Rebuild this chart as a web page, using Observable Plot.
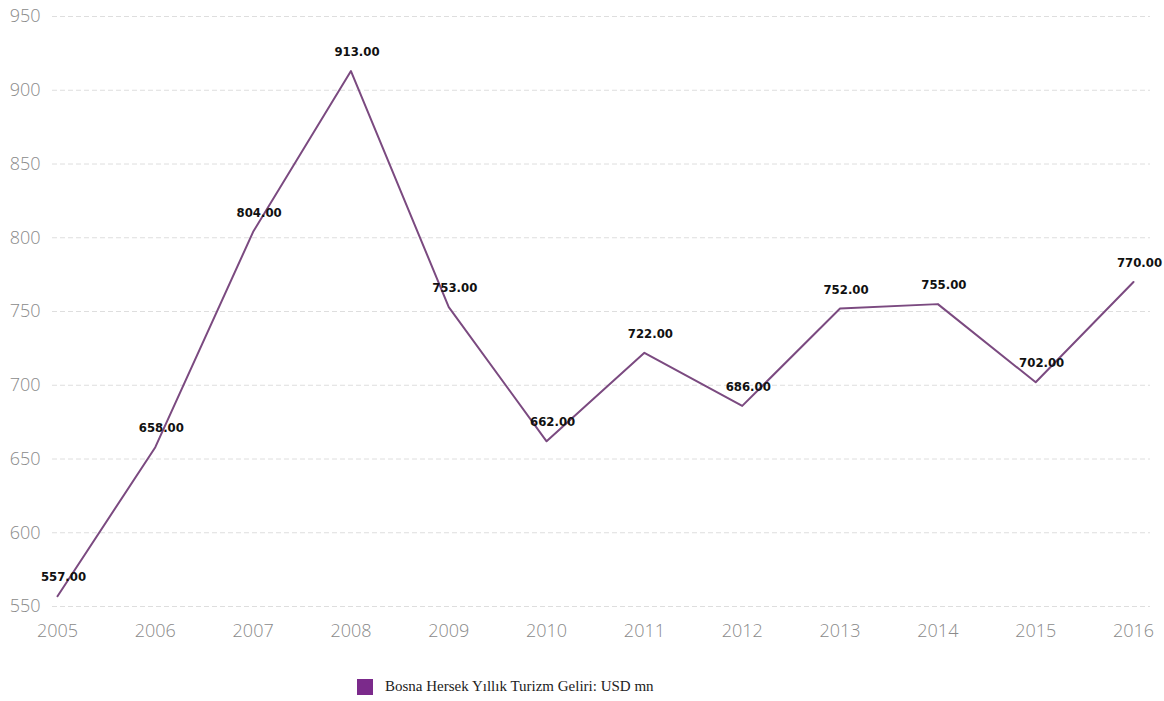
<!DOCTYPE html>
<html><head><meta charset="utf-8">
<script src="https://cdn.jsdelivr.net/npm/d3@7"></script>
<script src="https://cdn.jsdelivr.net/npm/@observablehq/plot@0.6"></script>
<style>
body{margin:0;background:#fff;}
#legend{display:flex;align-items:center;padding-left:357px;margin-top:28px;font-family:"Liberation Serif","Times New Roman",serif;font-size:15px;color:#222;}
#legend .sw{width:16px;height:16px;background:#7b2a8b;margin-right:12px;}
</style></head>
<body>
<div id="chart"></div>
<div id="legend"><div class="sw"></div><span>Bosna Hersek Yıllık Turizm Geliri: USD mn</span></div>
<script>
const years = [2005,2006,2007,2008,2009,2010,2011,2012,2013,2014,2015,2016];
const values = [557,658,804,913,753,662,722,686,752,755,702,770];
const yTicks = [550,600,650,700,750,800,850,900,950];
const seriesName = "Bosna Hersek Yıllık Turizm Geliri: USD mn";
const data = years.map((y,i)=>({year:y,value:values[i]}));

const chart = Plot.plot({
  width:1164, height:650,
  marginLeft:57, marginRight:31, marginTop:16, marginBottom:44,
  style:{fontFamily:"'Open Sans', sans-serif", background:"#fff"},
  x:{domain:[2005,2016], ticks:years, tickFormat:d=>String(d), tickSize:0, tickPadding:18, label:null},
  y:{domain:[550,950], ticks:yTicks, tickSize:0, tickPadding:17, label:null},
  marks:[
    Plot.ruleY(yTicks,{stroke:"#dedede", strokeDasharray:"5,3", insetLeft:-5, insetRight:-17}),
    Plot.axisX({ticks:years, tickFormat:d=>String(d), tickSize:0, tickPadding:18, fontSize:18, fill:"#8a8a8a", fontWeight:300, label:null}),
    Plot.axisY({ticks:yTicks, tickSize:0, tickPadding:17, fontSize:18, fill:"#8a8a8a", fontWeight:300, label:null}),
    Plot.line(data,{x:"year",y:"value",stroke:"#7b4a80",strokeWidth:2}),
    Plot.text(data,{x:"year",y:"value",text:d=>d.value.toFixed(2),dy:-19,dx:6,fontWeight:"bold",fontSize:13,fill:"#111",fontFamily:"'DejaVu Sans Condensed','Liberation Sans Narrow',sans-serif"})
  ]
});
document.getElementById("chart").append(chart);
</script>
</body></html>
